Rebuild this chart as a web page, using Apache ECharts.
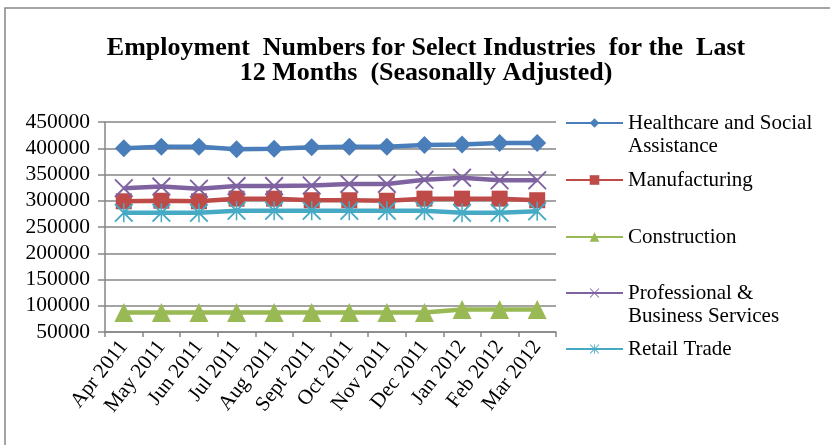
<!DOCTYPE html>
<html><head><meta charset="utf-8">
<script src="https://cdn.jsdelivr.net/npm/echarts@6/dist/echarts.min.js"></script>
<style>html,body{margin:0;padding:0;background:#fff}#c{width:830px;height:445px}</style>
</head><body><div id="c"></div>
<script>
const months = ['Apr 2011','May 2011','Jun 2011','Jul 2011','Aug 2011','Sept 2011','Oct 2011','Nov 2011','Dec 2011','Jan 2012','Feb 2012','Mar 2012'];
const healthcare = [400000,403000,403000,398000,399000,402000,403000,403000,406000,407000,410000,410000];
const manufacturing = [299000,300000,299000,304000,304000,301000,301000,300000,304000,304000,304000,301000];
const construction = [87000,87000,87000,87000,87000,87000,87000,87000,87000,93000,93000,93000];
const professional = [324000,327000,323000,328000,328000,329000,332000,332000,340000,344000,339000,339000];
const retail = [277000,277000,277000,281000,281000,281000,281000,281000,281000,277000,277000,280000];
const seriesNames = ['Healthcare and Social Assistance','Manufacturing','Construction','Professional & Business Services','Retail Trade'];
const legendLabels = ['\nHealthcare and Social\nAssistance','Manufacturing','Construction','\nProfessional &\nBusiness Services','Retail Trade'];

const colors = ['#4A7EBB','#BE4B48','#98B954','#7F63A1','#46AAC5'];
const X_PATH = 'path://M0 7 L7 0 L100 93 L93 100 Z M93 0 L100 7 L7 100 L0 93 Z';
const STAR_PATH = 'path://M0 7 L7 0 L100 93 L93 100 Z M93 0 L100 7 L7 100 L0 93 Z M46 0 L54 0 L54 100 L46 100 Z';
const symbols = ['diamond','rect','triangle',X_PATH,STAR_PATH];
const sizes = [18,16,19,19,19];
const datasets = [healthcare, manufacturing, construction, professional, retail];
const FONT = '"Liberation Serif","Times New Roman",serif';

const chart = echarts.init(document.getElementById('c'));
const legendIconY = [123,180,237,293,349];
const legendLines = [3,1,1,3,1];
const LH = 23;
const legends = seriesNames.map((n,i)=>({
  data:[n], orient:'vertical', left:565,
  top: legendIconY[i] - legendLines[i]*LH/2,
  itemWidth:57, itemHeight:12, padding:0, itemGap:5,
  formatter: ()=>legendLabels[i],
  textStyle:{fontFamily:FONT, fontSize:21, color:'#000', lineHeight:LH},
  selectedMode:false
}));

chart.setOption({
  animation:false,
  color: colors,
  graphic:[{type:'rect', shape:{x:5,y:8,width:900,height:600}, style:{fill:'none', stroke:'#868686', lineWidth:1.5}, silent:true}],
  title:{
    text:'Employment  Numbers for Select Industries  for the  Last\n12 Months  (Seasonally Adjusted)',
    left:421, textAlign:'center', top:31,
    textStyle:{fontFamily:FONT, fontWeight:'bold', fontSize:26, lineHeight:25, color:'#000'}
  },
  legend: legends,
  grid:{left:105, right:274, top:122, bottom:113},
  xAxis:{
    type:'category', data:months, boundaryGap:true,
    axisLine:{lineStyle:{color:'#868686', width:1.5}},
    axisTick:{show:true, length:5, lineStyle:{color:'#868686', width:1.5}},
    axisLabel:{rotate:52, fontFamily:FONT, fontSize:21, color:'#000', margin:11, interval:0}
  },
  yAxis:{
    type:'value', min:50000, max:450000, interval:50000,
    axisLine:{show:true, lineStyle:{color:'#868686', width:1.5}},
    axisTick:{show:true, length:7, lineStyle:{color:'#868686', width:1.5}},
    splitLine:{lineStyle:{color:'#868686', width:1.5}},
    axisLabel:{fontFamily:FONT, fontSize:21.5, color:'#000', margin:15, formatter:(v)=>String(v)}
  },
  series: seriesNames.map((n,i)=>({
    name:n, type:'line', data:datasets[i],
    symbol:symbols[i], symbolSize:sizes[i], showSymbol:true,
    lineStyle:{width:4.5, color:colors[i]},
    itemStyle:{color:colors[i]},
    z: [5,3,2,4,3][i]
  }))
});
</script></body></html>
